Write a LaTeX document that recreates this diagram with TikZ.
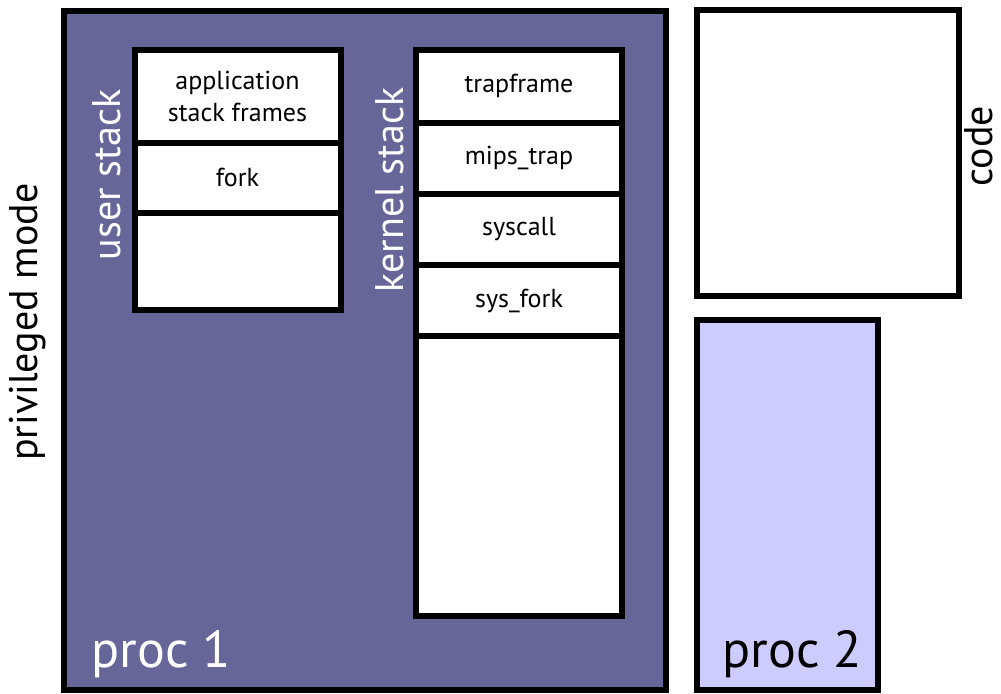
\documentclass[tikz,border=0pt]{standalone}
\usepackage{fontspec}
\setmainfont{PT Sans}
\usepackage{tikz}
\usepackage{xcolor}
\usetikzlibrary{positioning}
\definecolor{procdark}{RGB}{102,102,153}
\definecolor{proclight}{RGB}{204,204,255}
\tikzstyle{region} = [rectangle, draw, line width=3pt, inner sep=0pt, outer sep=0pt]
\tikzstyle{stackframe} = [rectangle, draw, fill=white, line width=3pt, inner sep=0pt, outer sep=0pt, minimum width=103pt, align=center, font=\fontsize{13}{16}\selectfont]
\tikzstyle{sidelabel} = [rotate=90, anchor=base, inner sep=0pt, font=\fontsize{20}{24}\selectfont]
\tikzstyle{proclabel} = [anchor=base west, inner sep=0pt, font=\fontsize{26}{30}\selectfont]

\begin{document}
\begin{tikzpicture}[x=0.5pt,y=-0.5pt]
  \useasboundingbox (0,0) rectangle (1001,693);
  \node[region, fill=procdark, minimum width=301pt, minimum height=339.5pt, anchor=north west] (proc_1) at (63.5,11) {};
  \node[region, fill=white, minimum width=130.75pt, minimum height=143pt, anchor=north west] (code) at (697,10) {};
  \node[region, fill=proclight, minimum width=90.5pt, minimum height=185pt, anchor=north west] (proc_2) at (697,320) {};

  \node[stackframe, minimum height=46.25pt, anchor=north west] (user_app) at (134.5,50) {application\\stack frames};
  \node[stackframe, minimum height=35.25pt] (user_fork) [below=0pt of user_app] {fork};
  \node[stackframe, minimum height=48.5pt] (user_free) [below=0pt of user_fork] {};

  \node[stackframe, minimum height=36.25pt, anchor=north west] (kern_trap) at (416,50) {trapframe};
  \node[stackframe, minimum height=35.6pt] (kern_mips) [below=0pt of kern_trap] {mips\_trap};
  \node[stackframe, minimum height=35.65pt] (kern_syscall) [below=0pt of kern_mips] {syscall};
  \node[stackframe, minimum height=35.5pt] (kern_fork) [below=0pt of kern_syscall] {sys\_fork};
  \node[stackframe, minimum height=140pt] (kern_free) [below=0pt of kern_fork] {};

  \node[sidelabel, text=white] (user_label) at (120,175) {user stack};
  \node[sidelabel, text=white] (kern_label) at (403,190) {kernel stack};
  \node[sidelabel] (mode_label) at (38,322) {privileged mode};
  \node[sidelabel] (code_label) at (992,146) {code};
  \node[proclabel, text=white] (proc_1_label) at (91,667) {proc 1};
  \node[proclabel] (proc_2_label) at (722,667) {proc 2};
\end{tikzpicture}
\end{document}
